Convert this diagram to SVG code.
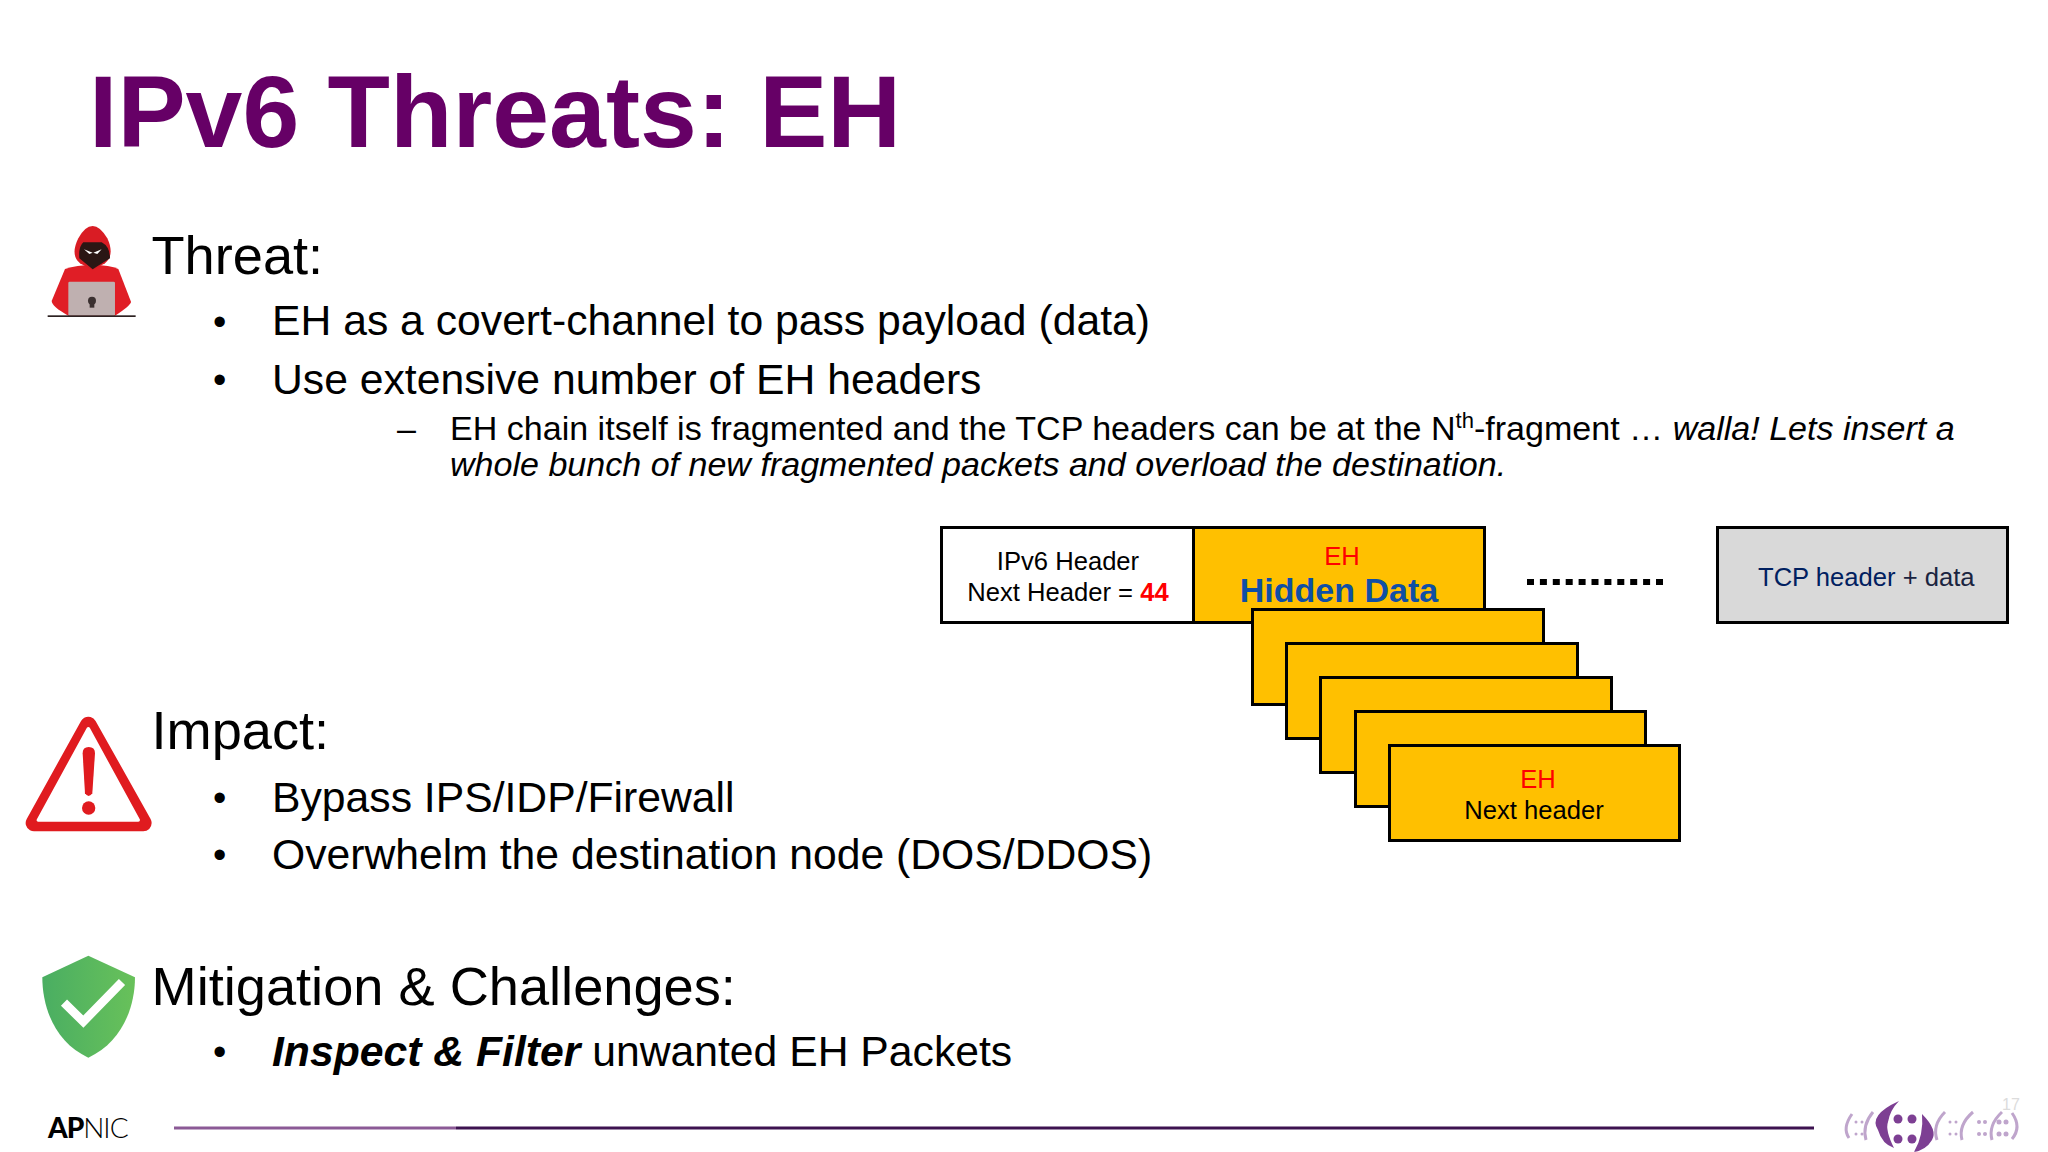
<svg xmlns="http://www.w3.org/2000/svg" width="2048" height="1152" viewBox="0 0 2048 1152">
<style>
text{font-family:"Liberation Sans",Arial,sans-serif;fill:#000}
.h{font-size:54.200px}
.b{font-size:42.700px}
.u{font-size:38px}
.s{font-size:34.050px}
.d{font-size:25.600px}
.m{text-anchor:middle}
.r{fill:#f00}
.box{stroke:#000;stroke-width:3;fill:#ffc000}
.pale{fill:none;stroke:#bfa5cc;stroke-width:3}
.dot{fill:#bfa5cc}
.big{fill:#7d3f93}
</style>
<defs>
<linearGradient id="sg" x1="0" x2="1" y1="0" y2="0"><stop offset="0" stop-color="#4aae62"/><stop offset="1" stop-color="#68c15a"/></linearGradient>
</defs>
<rect width="2048" height="1152" fill="#fff"/>
<text id="title" x="89" y="147" font-size="102.200" font-weight="700" style="fill:#660066">IPv6 Threats: EH</text>

<g id="icon-threat" transform="translate(0,200) scale(.3333)">
<path d="M195 207Q230 195 278 195Q330 195 355 207L393 305Q394 315 345 347H205Q156 320 155 303Z" fill="#e01e26"/>
<path d="M278 78Q300 78 322 115Q345 165 315 190L278 210L240 190Q210 165 235 115Q255 78 278 78Z" fill="#d91c24"/>
<path d="M250 127H305Q330 140 330 175L278 208L238 175Q235 140 250 127Z" fill="#2a1614"/>
<path d="M252 148L278 158L268 162ZM305 148L280 158L292 162Z" fill="#fff"/>
<rect x="205" y="245" width="140" height="102" rx="4" fill="#bfb0b0"/>
<circle cx="276" cy="302" r="12" fill="#3b3030"/><rect x="269" y="310" width="14" height="13" fill="#3b3030"/>
<rect x="143" y="346" width="264" height="5" fill="#2b2020"/>
</g>
<g id="threat">
<text class="h" x="151.500" y="274">Threat:</text>
<text class="u" x="213" y="335">•</text>
<text class="b" x="272" y="335">EH as a covert-channel to pass payload (data)</text>
<text class="u" x="213" y="393">•</text>
<text class="b" x="272" y="394">Use extensive number of EH headers</text>
<text class="s" x="397" y="440">–</text>
<text class="s" x="450" y="440">EH chain itself is fragmented and the TCP headers can be at the N<tspan font-size="22" dy="-12">th</tspan><tspan dy="12">-fragment … </tspan><tspan font-style="italic">walla! Lets insert a</tspan></text>
<text class="s" x="450" y="476" font-style="italic">whole bunch of new fragmented packets and overload the destination.</text>
</g>

<g id="icon-impact" transform="translate(0,690) scale(.3333)">
<path d="M265 105L102 399H430Z" fill="#e01b1f" stroke="#e01b1f" stroke-width="50" stroke-linejoin="round"/>
<path d="M265 116L115 390H415Z" fill="#fff" stroke="#fff" stroke-width="10" stroke-linejoin="round"/>
<path d="M248 190Q248 171 266 171Q285 171 285 190L277 310Q266 326 255 310Z" fill="#e01b1f"/>
<circle cx="266" cy="354" r="20" fill="#e01b1f"/>
</g>
<g id="impact">
<text class="h" x="151.500" y="749">Impact:</text>
<text class="u" x="213" y="811">•</text>
<text class="b" x="272" y="812">Bypass IPS/IDP/Firewall</text>
<text class="u" x="213" y="868">•</text>
<text class="b" x="272" y="869">Overwhelm the destination node (DOS/DDOS)</text>
</g>

<g id="icon-mitigation" transform="translate(0,690) scale(.3333)">
<path d="M265 797L405 862C405 960 360 1060 265 1103C170 1060 127 960 127 862Z" fill="url(#sg)"/>
<path d="M192 938L250 995L366 876" fill="none" stroke="#fff" stroke-width="26"/>
</g>
<g id="mitigation">
<text class="h" x="151.500" y="1005">Mitigation &amp; Challenges:</text>
<text class="u" x="213" y="1065">•</text>
<text class="b" x="272" y="1066"><tspan font-weight="700" font-style="italic">Inspect &amp; Filter</tspan> unwanted EH Packets</text>
</g>

<g id="packet-ipv6">
<rect x="941.500" y="527.500" width="252" height="95" fill="#fff" stroke="#000" stroke-width="3"/>
<text class="d m" x="1068" y="570">IPv6 Header</text>
<text class="d m" x="1068" y="601">Next Header = <tspan class="r" font-weight="700">44</tspan></text>
</g>
<g id="packet-eh">
<rect class="box" x="1193.500" y="527.500" width="291" height="95"/>
<text class="d m r" x="1342" y="565">EH</text>
<text class="m" x="1339" y="602" font-size="34" font-weight="700" style="fill:#0f4fa5">Hidden Data</text>
</g>
<g id="eh-stack">
<rect class="box" x="1252.500" y="609.500" width="291" height="95"/>
<rect class="box" x="1286.500" y="643.500" width="291" height="95"/>
<rect class="box" x="1320.500" y="677.500" width="291" height="95"/>
<rect class="box" x="1355.500" y="711.500" width="290" height="95"/>
<rect class="box" x="1389.500" y="745.500" width="290" height="95"/>
<text class="d m r" x="1538" y="788">EH</text>
<text class="d m" x="1534" y="819">Next header</text>
</g>
<path id="dots" d="M1527 582H1663" fill="none" stroke="#000" stroke-width="6" stroke-dasharray="7 5.900"/>
<g id="packet-tcp">
<rect x="1717.500" y="527.500" width="290" height="95" fill="#d9d9d9" stroke="#000" stroke-width="3"/>
<text class="d" x="1758" y="586"><tspan style="fill:#002060">TCP header</tspan><tspan style="fill:#1a2440"> + data</tspan></text>
</g>

<g id="footer">
<text x="48" y="1138" font-size="28" style="font-family:'Lato','Liberation Sans',sans-serif;letter-spacing:-1px"><tspan font-weight="900">AP</tspan><tspan font-weight="300">NIC</tspan></text>
<rect x="174" y="1126.500" width="282" height="3" fill="#8b5a96"/>
<rect x="456" y="1126.500" width="1358" height="3" fill="#3d1250"/>
<text x="2002" y="1110" font-size="16" style="fill:#dcdcdc">17</text>
<g id="logo">
<path class="pale" d="M1852 1114Q1842 1128 1849 1138M1873 1112Q1862 1125 1866 1140"/>
<circle class="dot" cx="1856" cy="1122" r="1.500"/><circle class="dot" cx="1862" cy="1122" r="1.500"/><circle class="dot" cx="1856" cy="1134" r="1.500"/><circle class="dot" cx="1862" cy="1134" r="1.500"/>
<path class="pale" d="M1945 1112Q1932 1125 1937 1140M1973 1112Q1958 1125 1962 1140M2002 1112Q1988 1125 1992 1140"/>
<path class="pale" d="M2012 1113Q2022 1127 2012 1139"/>
<circle class="dot" cx="1950" cy="1122" r="1.500"/><circle class="dot" cx="1956" cy="1122" r="1.500"/><circle class="dot" cx="1950" cy="1134" r="1.500"/><circle class="dot" cx="1956" cy="1134" r="1.500"/>
<circle class="dot" cx="1979" cy="1122" r="2"/><circle class="dot" cx="1985" cy="1122" r="2"/><circle class="dot" cx="1979" cy="1134" r="2"/><circle class="dot" cx="1985" cy="1134" r="2"/>
<circle class="dot" cx="1999" cy="1122" r="2.500"/><circle class="dot" cx="2006" cy="1122" r="2.500"/><circle class="dot" cx="1999" cy="1134" r="2.500"/><circle class="dot" cx="2006" cy="1134" r="2.500"/>
<path class="big" d="M1899 1101Q1868 1115 1878 1130Q1882 1144 1894 1148Q1885 1130 1888 1122Q1890 1110 1899 1101Z"/>
<circle class="big" cx="1898" cy="1119" r="4.500"/><circle class="big" cx="1912" cy="1119" r="4.500"/><circle class="big" cx="1898" cy="1139" r="4.500"/><circle class="big" cx="1912" cy="1139" r="4.500"/>
<path class="big" d="M1922 1114Q1938 1130 1932 1140Q1926 1150 1914 1152Q1924 1135 1922 1114Z"/>
</g>
</g>
</svg>
